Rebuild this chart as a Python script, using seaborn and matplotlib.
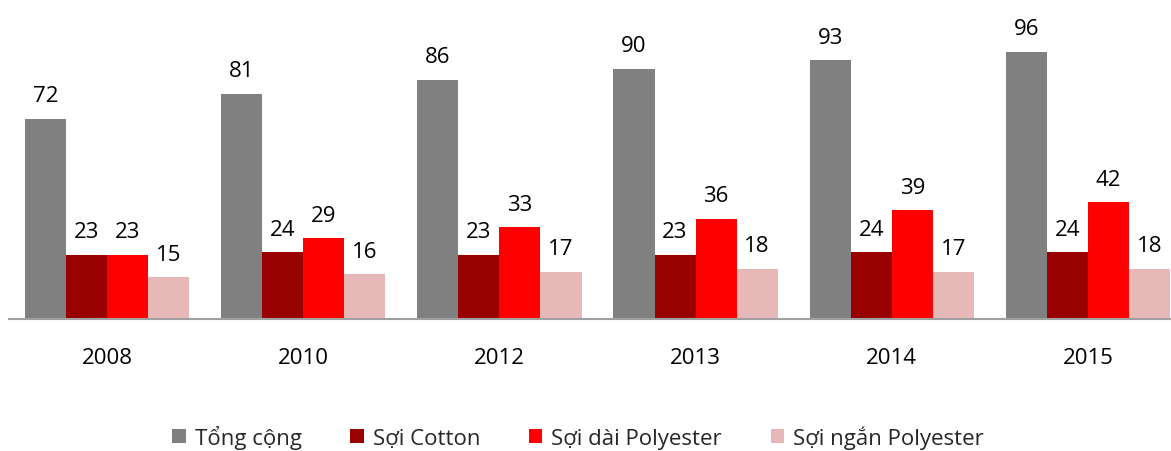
import matplotlib
matplotlib.use("Agg")
import matplotlib.pyplot as plt
import seaborn as sns
import pandas as pd
from matplotlib.patches import Patch

years = ["2008", "2010", "2012", "2013", "2014", "2015"]
series = ["Tổng cộng", "Sợi Cotton", "Sợi dài Polyester", "Sợi ngắn Polyester"]
tong_cong = [72, 81, 86, 90, 93, 96]
soi_cotton = [23, 24, 23, 23, 24, 24]
soi_dai = [23, 29, 33, 36, 39, 42]
soi_ngan = [15, 16, 17, 18, 17, 18]
colors = ["#808080", "#990000", "#FF0000", "#E6B8B7"]

rows = []
for name, vals in zip(series, [tong_cong, soi_cotton, soi_dai, soi_ngan]):
    for y, v in zip(years, vals):
        rows.append({"Năm": y, "Loại": name, "Giá trị": v})
df = pd.DataFrame(rows)

sns.set_theme(style="white")
plt.rcParams["font.family"] = ["Open Sans", "DejaVu Sans"]

fig = plt.figure(figsize=(11.71, 4.52), dpi=100)
ax = fig.add_axes([9 / 1171, 132 / 452, 1177 / 1171, 320 / 452])

sns.barplot(data=df, x="Năm", y="Giá trị", hue="Loại", order=years, hue_order=series,
            palette=colors, saturation=1, width=0.837, gap=0, linewidth=0,
            errorbar=None, legend=False, ax=ax)

for cont in ax.containers:
    ax.bar_label(cont, labels=[f"{int(v)}" for v in cont.datavalues], padding=9,
                 fontsize=16, color="black")

ax.set_xlim(-0.5, 5.5)
ax.set_ylim(0, 115)
ax.set_xlabel("")
ax.set_ylabel("")
ax.set_yticks([])
ax.tick_params(axis="x", length=0, pad=20, labelsize=16, labelcolor="black")
for s in ["top", "right", "left"]:
    ax.spines[s].set_visible(False)
ax.spines["bottom"].set_color("#A0A0A0")
ax.spines["bottom"].set_linewidth(1.5)

handles = [Patch(facecolor=c, edgecolor="none", label=l) for c, l in zip(colors, series)]
fig.legend(handles=handles, loc="center", bbox_to_anchor=(578 / 1171, 1 - 438 / 452),
           ncol=4, frameon=False, fontsize=16, handlelength=0.6, handleheight=0.6,
           handletextpad=0.4, columnspacing=2.2)

fig.savefig("out.png", dpi=100)
